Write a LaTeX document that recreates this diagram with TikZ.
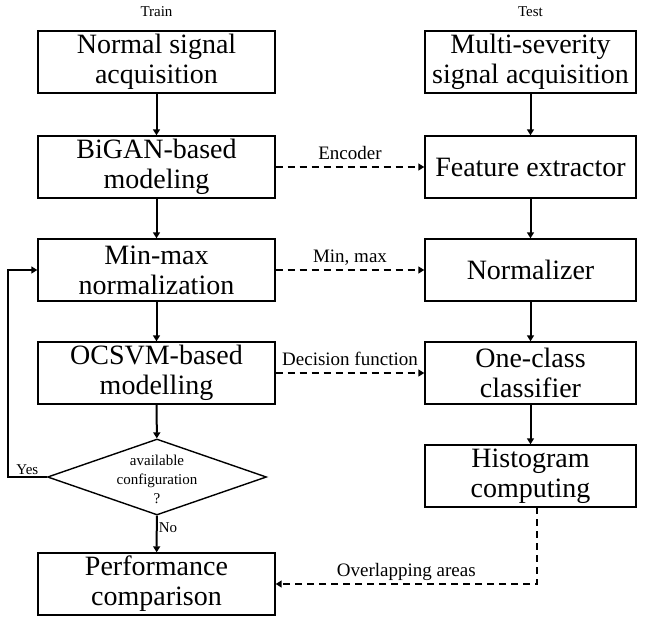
\documentclass[tikz,border=0pt]{standalone}
\usepackage{fontspec}
\setmainfont{Liberation Serif}
\usetikzlibrary{arrows.meta,shapes.geometric}

\tikzset{
  stage/.style={draw, line width=1.4pt, minimum width=237pt, minimum height=62pt,
    inner sep=0pt, align=center, font=\fontsize{28}{30}\selectfont},
  teststage/.style={stage, minimum width=211pt},
  decision/.style={draw, line width=1.4pt, shape=diamond, aspect=2.88,
    minimum width=219pt, minimum height=76pt, inner sep=0pt},
  flow/.style={-{Triangle[length=6pt,width=7pt]}, line width=2pt},
  link/.style={flow, dash pattern=on 7pt off 5pt},
  lbl/.style={font=\fontsize{19}{22}\selectfont, anchor=base, yshift=8pt, inner sep=0pt},
  small/.style={font=\fontsize{15}{19}\selectfont, align=center, inner sep=1pt}
}

\begin{document}
\begin{tikzpicture}[x=1pt,y=-1pt]
  \useasboundingbox (0,0) rectangle (648,622);
  \node[small] (train) at (156.5,12) {Train};
  \node[small] (test) at (530.5,12) {Test};
  % Train
  \node[stage] (acq) at (156.5,62) {Normal signal\\acquisition};
  \node[stage] (bigan) at (156.5,167) {BiGAN-based\\modeling};
  \node[stage] (minmax) at (156.5,270) {Min-max\\normalization};
  \node[stage] (ocsvm) at (156.5,373) {OCSVM-based\\modelling};
  \node[decision] (conf) at (157,477) {};
  \node[small] (conftext) at (157,479) {available\\configuration\\?};
  \node[stage] (perf) at (156.5,584) {Performance\\comparison};
  % Test
  \node[teststage] (macq) at (530.5,62) {Multi-severity\\signal acquisition};
  \node[teststage] (feat) at (530.5,167) {Feature extractor};
  \node[teststage] (norm) at (530.5,270) {Normalizer};
  \node[teststage] (occ) at (530.5,373) {One-class\\classifier};
  \node[teststage] (hist) at (530.5,476) {Histogram\\computing};
  \coordinate (loop) at (8,477);
  \coordinate (histout) at (537,507);
  % Train arrows
  \draw[flow] (acq) -- (bigan);
  \draw[flow] (bigan) -- (minmax);
  \draw[flow] (minmax) -- (ocsvm);
  \draw[flow] (ocsvm) -- (conf);
  \draw[flow] (conf) -- node[small, right, pos=0.32] {No} (perf);
  \draw[flow] (conf.west) -- node[small, above] {Yes} (loop) |- (minmax.west);
  % Test arrows
  \draw[flow] (macq) -- (feat);
  \draw[flow] (feat) -- (norm);
  \draw[flow] (norm) -- (occ);
  \draw[flow] (occ) -- (hist);
  % Train to test
  \draw[link] (bigan) -- node[lbl] {Encoder} (feat);
  \draw[link] (minmax) -- node[lbl] {Min, max} (norm);
  \draw[link] (ocsvm) -- node[lbl] {Decision function} (occ);
  \draw[link] (histout) |- node[lbl, pos=0.75] {Overlapping areas} (perf);
\end{tikzpicture}
\end{document}
